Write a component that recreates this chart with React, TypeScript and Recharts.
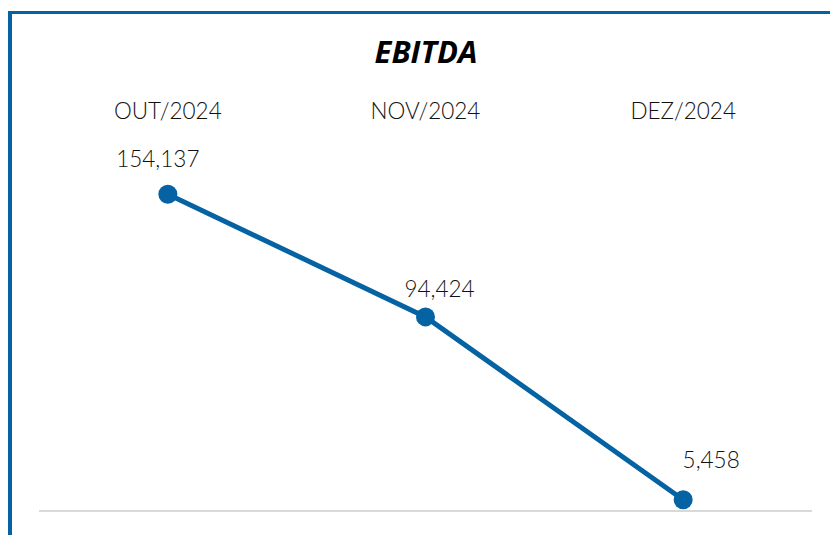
import { LineChart, Line, XAxis, YAxis, LabelList, ReferenceLine } from "recharts";

const months = ["OUT/2024", "NOV/2024", "DEZ/2024"];
const ebitda = [154137, 94424, 5458];

const data = months.map((month, i) => ({ month, value: ebitda[i] }));

const BLUE = "#0563A3";
const FONT = "Lato, 'Open Sans', sans-serif";

// small nudges so labels sit where the original put them
const LABEL_NUDGE = [
  { dx: -10, dy: -27 },
  { dx: 14, dy: -20 },
  { dx: 28, dy: -32 },
];

const formatNumber = (v: number) => v.toLocaleString("en-US");

const renderLabel = (props: any) => {
  const { x, y, value, index } = props;
  const n = LABEL_NUDGE[index] || { dx: 0, dy: -20 };
  return (
    <text
      x={x + n.dx}
      y={y + n.dy}
      textAnchor="middle"
      fontFamily={FONT}
      fontWeight={300}
      fontSize={22.5}
      fill="#111"
    >
      {formatNumber(value)}
    </text>
  );
};

const App = () => {
  return (
    <div style={{ position: "absolute", left: 0, top: 0, width: 830, height: 535, background: "#fff" }}>
      <div
        style={{
          position: "absolute",
          left: 8,
          top: 11,
          width: 822,
          height: 524,
          borderTop: `3px solid ${BLUE}`,
          borderLeft: `4px solid ${BLUE}`,
          boxSizing: "border-box",
        }}
      />
      <div
        style={{
          position: "absolute",
          left: 0,
          top: 36,
          width: 852,
          textAlign: "center",
          fontFamily: "'Open Sans', sans-serif",
          fontWeight: 700,
          fontStyle: "italic",
          fontSize: 31,
          lineHeight: "31px",
          color: "#000",
        }}
      >
        EBITDA
      </div>
      <div style={{ position: "absolute", left: 0, top: 0 }}>
        <LineChart
          width={830}
          height={535}
          data={data}
          margin={{ top: 111, right: 18, bottom: 24, left: 39 }}
        >
          <XAxis
            dataKey="month"
            orientation="top"
            scale="band"
            height={30}
            axisLine={false}
            tickLine={false}
            tickSize={0}
            tickMargin={22}
            interval={0}
            tick={{ fontFamily: FONT, fontWeight: 300, fontSize: 22.5, fill: "#111" }}
          />
          <YAxis hide domain={[0, 180000]} />
          <ReferenceLine y={0} stroke="#D9D9D9" strokeWidth={2} />
          <Line
            dataKey="value"
            stroke={BLUE}
            strokeWidth={5}
            dot={{ r: 9.5, fill: BLUE, stroke: "none" }}
            activeDot={false}
            isAnimationActive={false}
          >
            <LabelList dataKey="value" content={renderLabel} />
          </Line>
        </LineChart>
      </div>
    </div>
  );
};

export default App;
